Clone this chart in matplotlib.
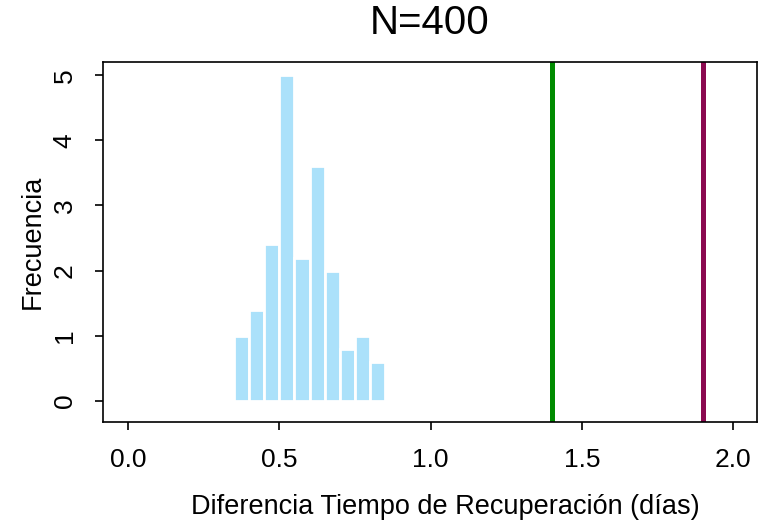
import numpy as np
import matplotlib.pyplot as plt

plt.rcParams['font.family'] = ['Liberation Sans', 'DejaVu Sans']

# histograma de diferencias (densidad por clase de 0.05)
bin_edges = [0.35, 0.40, 0.45, 0.50, 0.55, 0.60, 0.65, 0.70, 0.75, 0.80, 0.85]
heights = [1.0, 1.4, 2.4, 5.0, 2.2, 3.6, 2.0, 0.8, 1.0, 0.6]

# lineas de referencia
ref_green = 1.4
ref_red = 1.9

xticks = [0.0, 0.5, 1.0, 1.5, 2.0]
xtick_labels = ['0.0', '0.5', '1.0', '1.5', '2.0']
yticks = [0, 1, 2, 3, 4, 5]

fig = plt.figure(figsize=(7.68, 5.27), dpi=100)
ax = fig.add_axes([0.134, 0.2, 0.852, 0.682])

left = np.array(bin_edges[:-1])
width = np.diff(bin_edges)
ax.bar(left, heights, width=width, align='edge', color='#ABE1FA',
       edgecolor='white', linewidth=2.0)

ax.axvline(ref_green, color='#008B00', linewidth=3.6)
ax.axvline(ref_red, color='#8B0A50', linewidth=3.6)

ax.set_xlim(-0.083, 2.08)
ax.set_ylim(-0.32, 5.2)

ax.set_xticks(xticks)
ax.set_xticklabels(xtick_labels)
ax.set_yticks(yticks)
ax.tick_params(axis='both', direction='out', length=5.8, width=1.2,
               labelsize=19, color='black')
ax.tick_params(axis='x', pad=13)
ax.tick_params(axis='y', pad=13)
for lab in ax.get_yticklabels():
    lab.set_rotation(90)
    lab.set_va('center')

for sp in ax.spines.values():
    sp.set_linewidth(1.2)

ax.set_title('N=400', fontsize=29, pad=20)
ax.set_xlabel('Diferencia Tiempo de Recuperación (días)', fontsize=19.5)
ax.set_ylabel('Frecuencia', fontsize=19.5)
ax.xaxis.set_label_coords(0.523, -0.237)
ax.xaxis.label.set_va('center')
ax.yaxis.set_label_coords(-0.107, 0.5)
ax.yaxis.label.set_va('center')

fig.savefig('out.png', dpi=100)
